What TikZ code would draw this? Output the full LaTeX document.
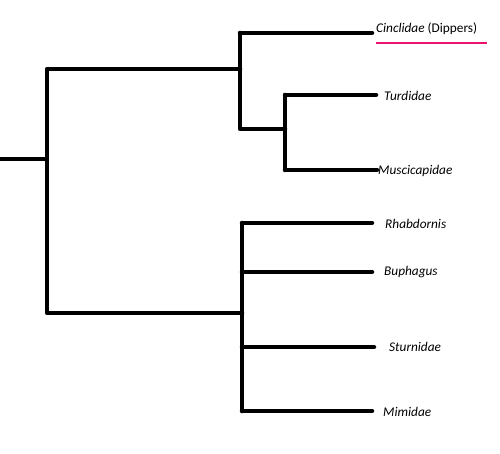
\documentclass[tikz,border=0pt]{standalone}
\usepackage{fontspec}
\setmainfont{Carlito}
\usepackage{xcolor}
\definecolor{markPink}{RGB}{232,20,112}

\begin{document}
\begin{tikzpicture}[x=1pt, y=-1pt,
		branch/.style={line width=4.5pt, line cap=round, line join=round},
		taxon/.style={anchor=west, inner sep=0pt, font=\fontsize{13.3}{15}\selectfont\itshape}]
	\useasboundingbox (0,0) rectangle (500,454);

	% Branch points
	\coordinate (rootL) at (0,159);
	\coordinate (rootN) at (47,159);
	\coordinate (upN) at (240,69);
	\coordinate (upT) at (240,33);
	\coordinate (upB) at (240,129);
	\coordinate (turdN) at (285,129);
	\coordinate (turdT) at (285,95);
	\coordinate (turdB) at (285,170);
	\coordinate (lowN) at (242,313);
	\coordinate (lowT) at (242,223);
	\coordinate (lowB) at (242,411);

	% Tips of the leaves
	\coordinate (cincE) at (372,33);
	\coordinate (turdE) at (376,95);
	\coordinate (muscE) at (377,170);
	\coordinate (rhabE) at (372,223);
	\coordinate (buphE) at (372,272);
	\coordinate (sturE) at (374,347);
	\coordinate (mimiE) at (372,411);

	% Labels
	\node[taxon] (cinc) at (376,29) {Cinclidae \upshape(Dippers)};
	\node[taxon] (turd) at (384,96) {Turdidae};
	\node[taxon] (musc) at (378,171) {Muscicapidae};
	\node[taxon] (rhab) at (385,224) {Rhabdornis};
	\node[taxon] (buph) at (384,272) {Buphagus};
	\node[taxon] (stur) at (389,347) {Sturnidae};
	\node[taxon] (mimi) at (383,412) {Mimidae};

	% Pink mark under the dippers
	\coordinate (markL) at (376,43);
	\coordinate (markR) at (487,43);
	\draw[markPink, line width=2pt] (markL) -- (markR);

	% Root and the two main clades
	\draw[branch, line width=3.5pt] (rootL) -- (rootN);
	\draw[branch] (upN) -| (rootN) |- (lowN);

	% Upper clade
	\draw[branch] (upT) -- (upB) -- (turdN);
	\draw[branch] (turdT) -- (turdB);
	\draw[branch] (upT) -- (cincE);
	\draw[branch] (turdT) -- (turdE);
	\draw[branch] (turdB) -- (muscE);

	% Lower clade
	\draw[branch] (lowT) -- (lowB);
	\foreach \tip/\y in {rhabE/223, buphE/272, sturE/347, mimiE/411}
		\draw[branch] (242,\y) -- (\tip);
\end{tikzpicture}
\end{document}
